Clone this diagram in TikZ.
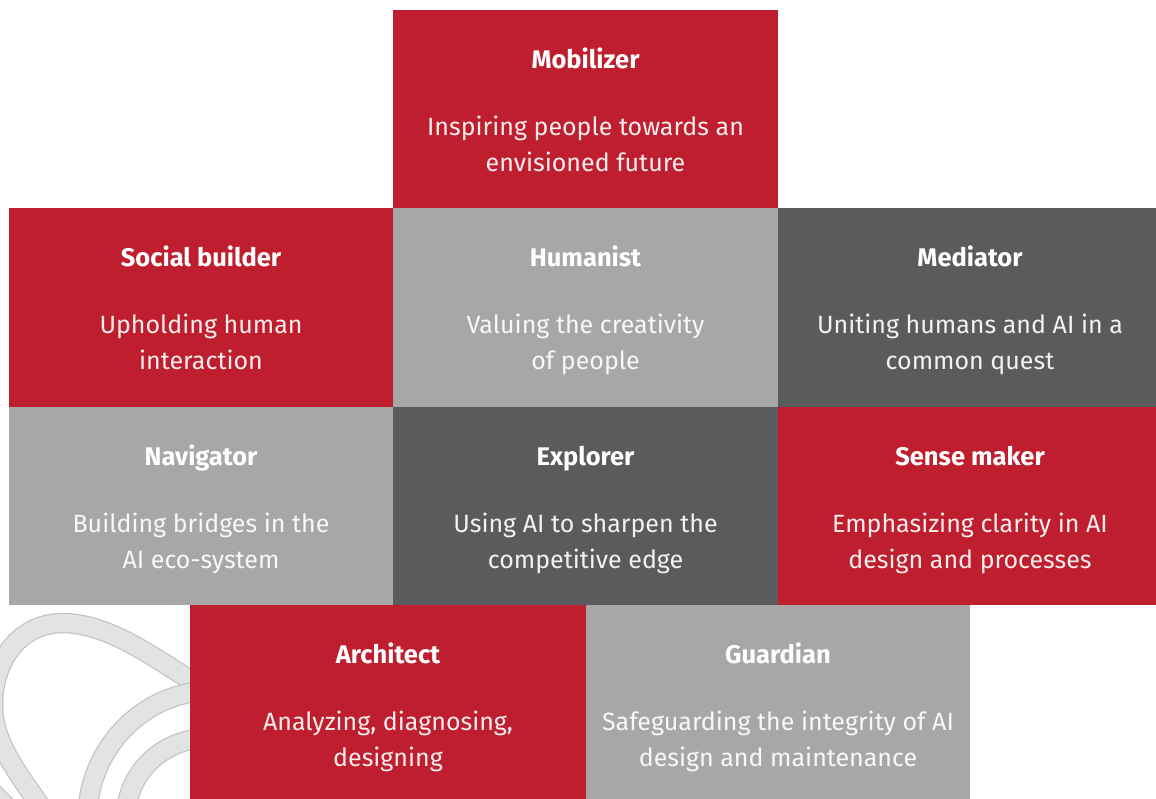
\documentclass[tikz,border=0pt]{standalone}
\usepackage{fontspec}
\setmainfont{Fira Sans}
\definecolor{cred}{HTML}{BE1E2D}
\definecolor{clight}{HTML}{A7A7A8}
\definecolor{cdark}{HTML}{5A5B5D}
\definecolor{wmfill}{HTML}{E2E3E5}
\definecolor{wmline}{HTML}{C2C3C5}
\tikzset{
  tilebox/.style={draw=none, anchor=north west, inner sep=0pt, outer sep=0pt},
  ttl/.style={anchor=base, text=white, font=\fontsize{25.5}{30}\selectfont\bfseries, inner sep=0pt},
  dsc/.style={anchor=base, text=white, text opacity=0.92, font=\fontsize{25}{30}\selectfont, inner sep=0pt},
  wmouter/.style={line width=20.5pt, draw=wmline, line cap=butt},
  wminner/.style={line width=18pt, draw=wmfill, line cap=butt}
}
% #1 name, #2 x, #3 y, #4 w, #5 h, #6 colour, #7 text centre x, #8 title, #9 line1, then line2 via \mklineb
\newcommand\mktile[9]{%
  \node[tilebox, fill=#6, minimum width=#4pt, minimum height=#5pt] (#1) at (#2,#3) {};
  \node[ttl] (#1t) at (#7,#3+58.5) {#8};
  \node[dsc] (#1a) at (#7,#3+125) {#9};
  \mklineb{#1}{#7}{#3}}
\newcommand\mklineb[4]{\node[dsc] (#1b) at (#2,#3+161) {#4};}
\begin{document}
\begin{tikzpicture}[x=1pt,y=-1pt]
\useasboundingbox (0,0) rectangle (1156,798);
\begin{scope}
\clip (0,0) rectangle (1156,798);
\draw[wmouter] (192,681) .. controls (150,655) and (110,625) .. (65,623) .. controls (20,622) and (-7,660) .. (-7,705) .. controls (-7,740) and (15,770) .. (40,805);
\draw[wminner] (192,681) .. controls (150,655) and (110,625) .. (65,623) .. controls (20,622) and (-7,660) .. (-7,705) .. controls (-7,740) and (15,770) .. (40,805);
\draw[wmouter] (-20,780) -- (25,825);
\draw[wminner] (-20,780) -- (25,825);
\draw[wmouter] (195,692) .. controls (140,700) and (95,745) .. (88,805);
\draw[wminner] (195,692) .. controls (140,700) and (95,745) .. (88,805);
\draw[wmouter] (195,739) .. controls (160,745) and (133,770) .. (127,805);
\draw[wminner] (195,739) .. controls (160,745) and (133,770) .. (127,805);
\end{scope}
\mktile{mob}{393}{10}{385}{198}{cred}{585.5}{Mobilizer}{Inspiring people towards an}{envisioned future}
\mktile{soc}{9}{208}{384}{199}{cred}{201}{Social builder}{Upholding human}{interaction}
\mktile{hum}{393}{208}{385}{199}{clight}{585.5}{Humanist}{Valuing the creativity}{of people}
\mktile{med}{778}{208}{384}{199}{cdark}{970}{Mediator}{Uniting humans and AI in a}{common quest}
\mktile{nav}{9}{407}{384}{198}{clight}{201}{Navigator}{Building bridges in the}{AI eco-system}
\mktile{exp}{393}{407}{385}{198}{cdark}{585.5}{Explorer}{Using AI to sharpen the}{competitive edge}
\mktile{sen}{778}{407}{384}{198}{cred}{970}{Sense maker}{Emphasizing clarity in AI}{design and processes}
\mktile{arc}{190}{605}{396}{198}{cred}{388}{Architect}{Analyzing, diagnosing,}{designing}
\mktile{gua}{586}{605}{384}{198}{clight}{778}{Guardian}{Safeguarding the integrity of AI}{design and maintenance}
\end{tikzpicture}
\end{document}
